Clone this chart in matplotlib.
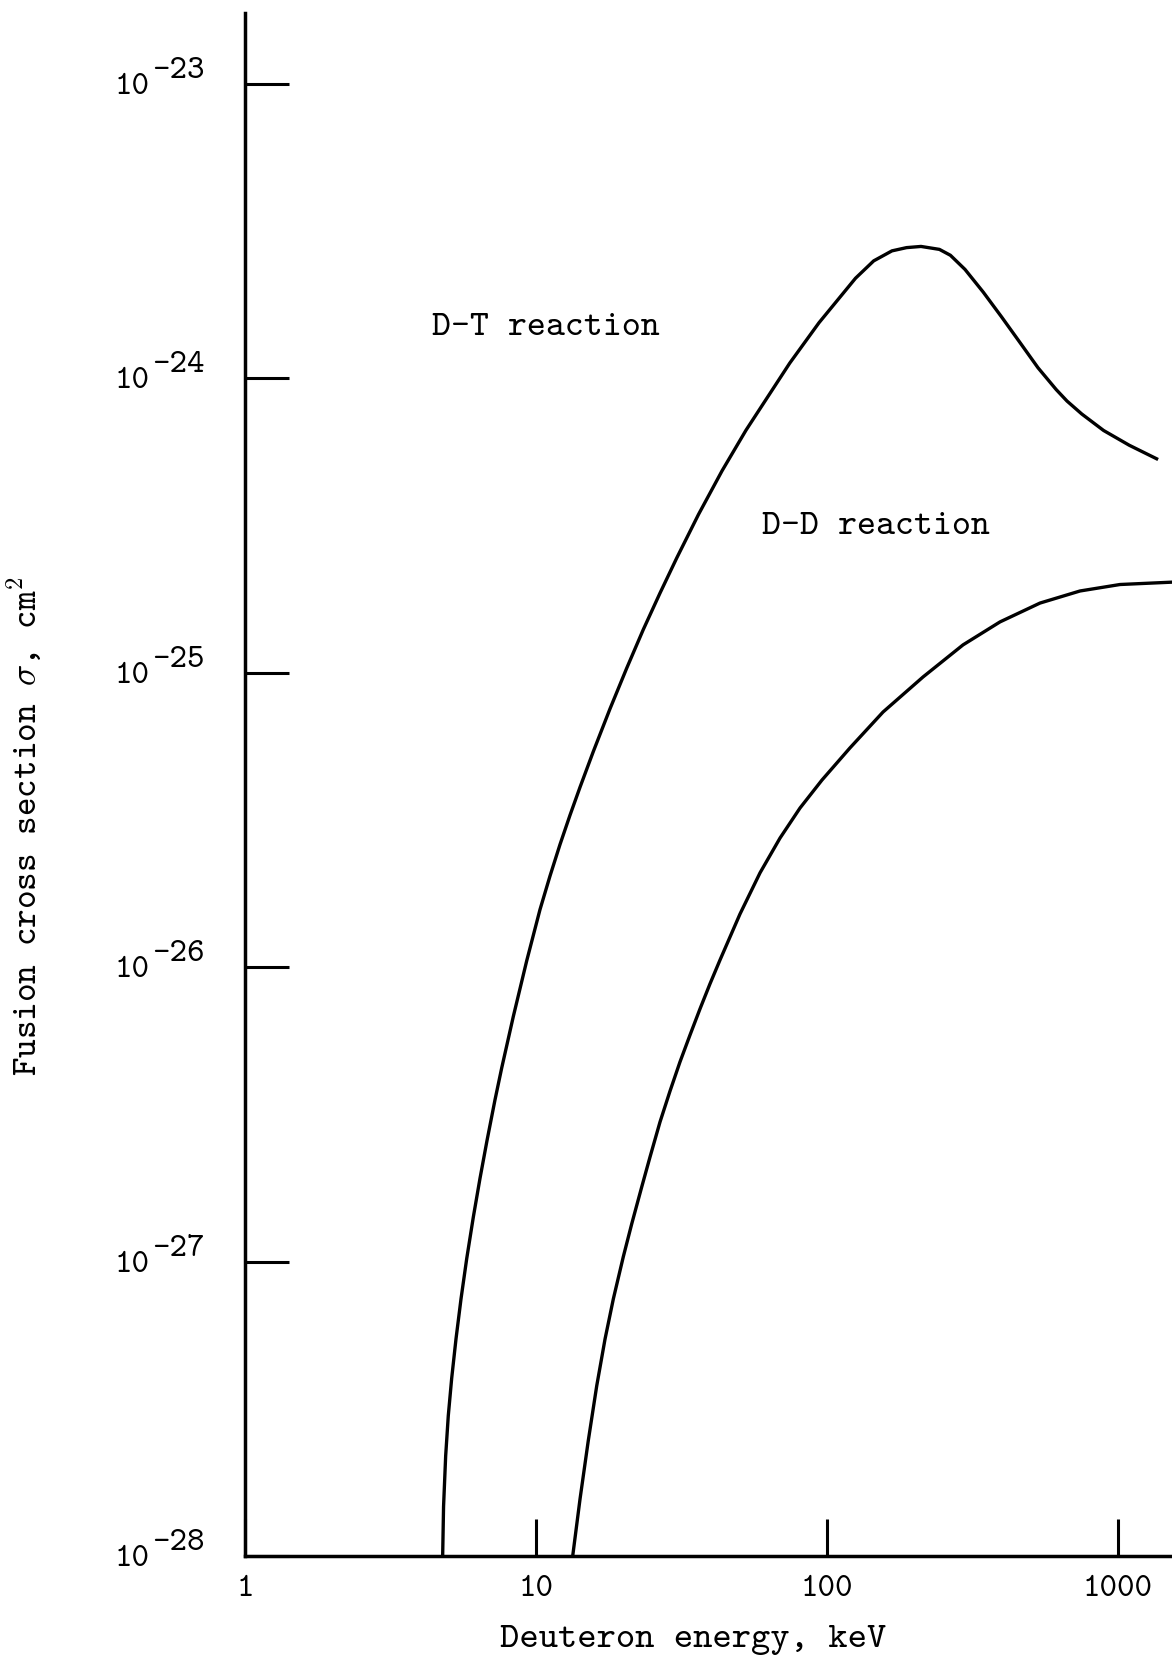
import matplotlib
matplotlib.use("Agg")
import matplotlib.pyplot as plt
from matplotlib.ticker import NullLocator

# fusion cross sections (energy in keV, log10 of sigma in cm^2)
dt_energy = [4.778, 4.812, 4.893, 4.995, 5.131, 5.311, 5.526, 5.780, 6.090,
             6.422, 6.787, 7.229, 7.622, 8.356, 9.290, 10.32, 11.17, 12.09,
             13.09, 14.17, 15.74, 17.96, 20.50, 23.37, 26.68, 30.45, 36.18,
             43.58, 52.68, 74.49, 93.87, 125.3, 144.7, 167.2, 187.7, 210.4,
             243.4, 265.5, 298.0, 344.2, 397.8, 459.4, 531.0, 613.2, 667.9,
             750.8, 892.4, 1092.7, 1357.3]
dt_log_sigma = [-28.0, -27.832, -27.660, -27.524, -27.397, -27.262, -27.126,
                -26.990, -26.849, -26.717, -26.589, -26.451, -26.343, -26.168,
                -25.979, -25.805, -25.691, -25.584, -25.484, -25.389, -25.268,
                -25.123, -24.985, -24.854, -24.730, -24.611, -24.463, -24.315,
                -24.177, -23.949, -23.812, -23.661, -23.602, -23.568, -23.557,
                -23.553, -23.563, -23.583, -23.631, -23.708, -23.792, -23.878,
                -23.965, -24.039, -24.078, -24.122, -24.178, -24.228, -24.274]

dd_energy = [13.37, 14.17, 15.12, 16.17, 17.27, 18.44, 19.95, 21.33, 23.08, 24.65,
             26.68, 28.88, 31.25, 33.82, 36.61, 39.62, 42.89, 50.23, 58.87, 68.95,
             80.77, 96.1, 119.9, 155.8, 213.8, 293.4, 393.1, 539.5, 740.3, 1016,
             1533]
dd_log_sigma = [-28.0, -27.806, -27.609, -27.422, -27.263, -27.127, -26.984,
                -26.872, -26.747, -26.645, -26.526, -26.421, -26.322, -26.231,
                -26.142, -26.057, -25.976, -25.820, -25.680, -25.562, -25.460,
                -25.365, -25.256, -25.134, -25.015, -24.906, -24.828, -24.764,
                -24.723, -24.701, -24.693]

x_ticks = [1, 10, 100, 1000]
x_tick_labels = ["1", "10", "100", "1000"]
y_exponents = [-23, -24, -25, -26, -27, -28]

plt.rcParams["font.family"] = ["cmtt10", "DejaVu Sans Mono"]
plt.rcParams["mathtext.fontset"] = "cm"

fig = plt.figure(figsize=(11.72, 16.58), dpi=100)
ax = fig.add_axes([245 / 1172, 101 / 1658, 927 / 1172, 1543 / 1658])

ax.plot(dt_energy, [10.0 ** v for v in dt_log_sigma], color="black", lw=2.4)
ax.plot(dd_energy, [10.0 ** v for v in dd_log_sigma], color="black", lw=2.4)

ax.set_xscale("log")
ax.set_yscale("log")
ax.set_xlim(1, 10 ** (927 / 291))
ax.set_ylim(1e-28, 10 ** (-23 + 70.6 / 294.5))

for side in ["top", "right"]:
    ax.spines[side].set_visible(False)
for side in ["left", "bottom"]:
    ax.spines[side].set_linewidth(2.5)

ax.set_xticks(x_ticks)
ax.set_xticklabels(x_tick_labels)
ax.xaxis.set_minor_locator(NullLocator())
ax.yaxis.set_minor_locator(NullLocator())
ax.tick_params(axis="x", direction="in", length=27, width=2.2, pad=13,
               labelsize=24)

y_ticks = [10.0 ** e for e in y_exponents]
ax.set_yticks(y_ticks)
ax.set_yticklabels([""] * len(y_ticks))
ax.tick_params(axis="y", direction="in", length=31.5, width=2.2)

# y tick labels: exponent typed full size and raised
ytrans = ax.get_yaxis_transform()
for e, v in zip(y_exponents, y_ticks):
    ax.annotate("10", xy=(0, v), xycoords=ytrans, xytext=(-95 * 0.72, -9 * 0.72),
                textcoords="offset points", ha="right", va="baseline",
                fontsize=24)
    ax.annotate("-%d" % abs(e), xy=(0, v), xycoords=ytrans,
                xytext=(-93 * 0.72, 7 * 0.72), textcoords="offset points",
                ha="left", va="baseline", fontsize=24)

ax.text(4.38, 10 ** -23.826, "D-T reaction", ha="left", va="center", fontsize=26)
ax.text(59.8, 10 ** -24.502, "D-D reaction", ha="left", va="center", fontsize=26)

ax.set_xlabel("Deuteron energy, keV", fontsize=26.5, va="center")
ax.xaxis.set_label_coords((693 - 245) / 927, -(1640 - 1557) / 1543)
ax.set_ylabel(r"Fusion cross section $\sigma$, cm$^2$", fontsize=25.5,
              va="center")
ax.yaxis.set_label_coords((26 - 246) / 927, (1557 - 826) / 1543)

fig.savefig("out.png", dpi=100)
